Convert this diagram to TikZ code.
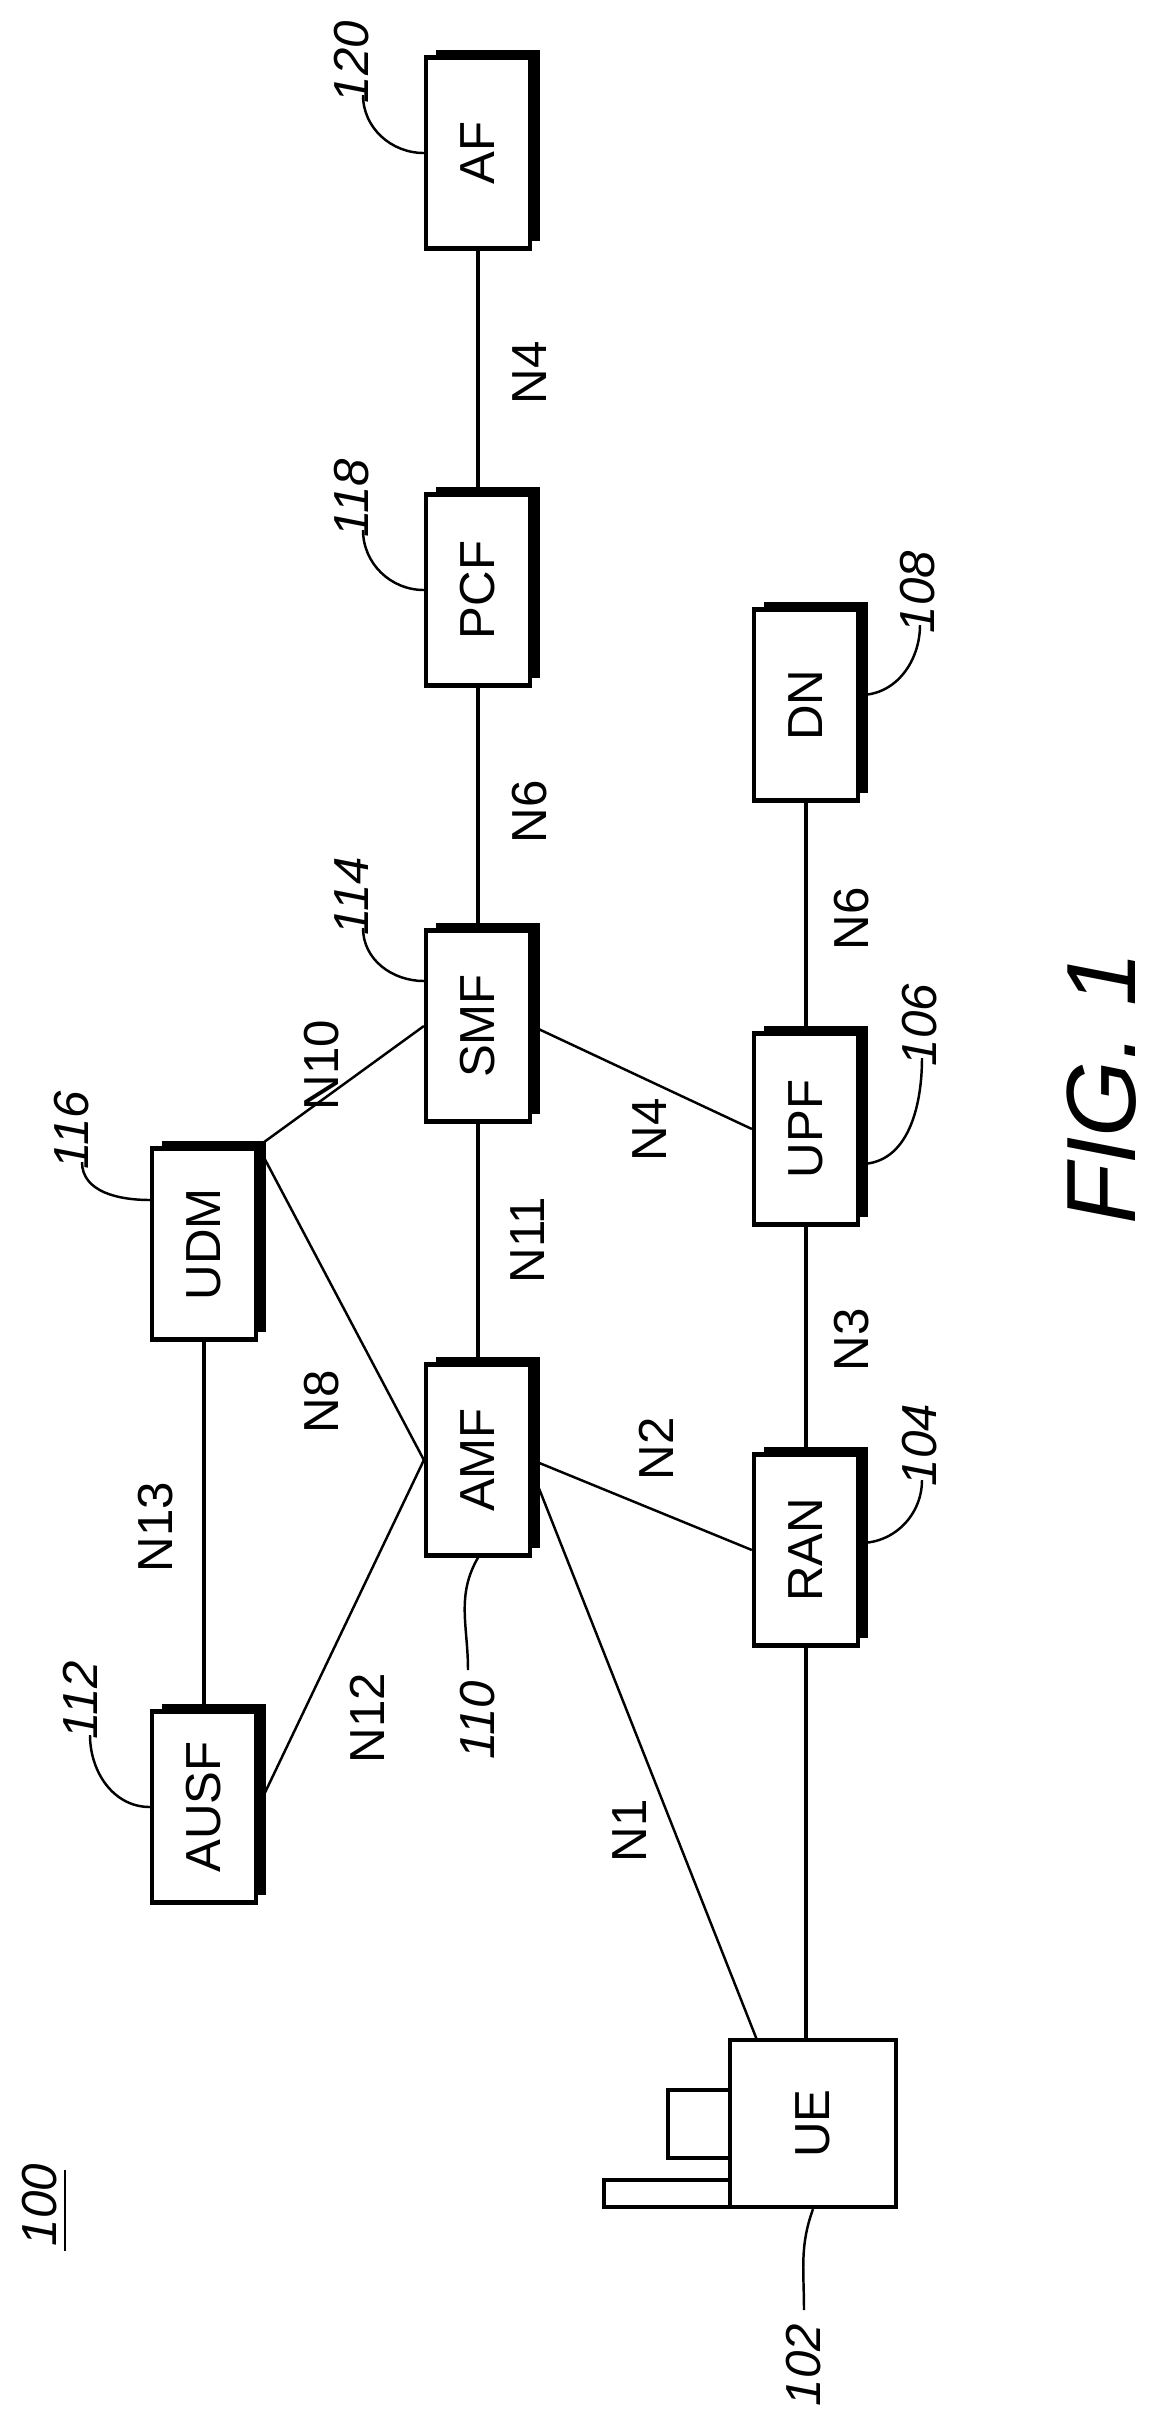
\documentclass[tikz,border=0pt]{standalone}
\usepackage{fontspec}
\setmainfont{Liberation Sans}
\usepackage{tikz}
\usetikzlibrary{calc,
                shadows
                }

\tikzset{
    nf/.style={draw, line width=1.2pt, fill=white, rotate=90,
               minimum width=1.91cm, minimum height=1.04cm,
               font=\fontsize{14}{14}\selectfont,
               drop shadow={shadow xshift=0.1cm, shadow yshift=0.08cm,
                            fill=black, opacity=1}},
    lnk/.style={line width=1.2pt},
    thn/.style={line width=0.7pt},
    lab/.style={rotate=90, font=\fontsize{14}{14}\selectfont},
    ref/.style={rotate=90, font=\fontsize{14}{14}\selectfont\itshape},
    lead/.style={line width=0.7pt}
}

\begin{document}
\begin{tikzpicture}
    \useasboundingbox (0,0) rectangle (11.56,-24.15);

    % Netzfunktionen
    \node[nf] (af)   at (4.78,-1.53)  {AF};
    \node[nf] (pcf)  at (4.78,-5.90)  {PCF};
    \node[nf] (smf)  at (4.78,-10.26) {SMF};
    \node[nf] (amf)  at (4.78,-14.60) {AMF};
    \node[nf] (udm)  at (2.04,-12.44) {UDM};
    \node[nf] (ausf) at (2.04,-18.07) {AUSF};
    \node[nf] (dn)   at (8.06,-7.05)  {DN};
    \node[nf] (upf)  at (8.06,-11.29) {UPF};
    \node[nf] (ran)  at (8.06,-15.50) {RAN};

    % Endgeraet
    \draw[lnk] (6.68,-20.90) rectangle (7.30,-21.58);
    \draw[lnk] (6.04,-21.80) rectangle (7.30,-22.07);
    \node[draw, lnk, rotate=90, minimum width=1.67cm, minimum height=1.66cm,
          font=\fontsize{14}{14}\selectfont] (ue) at (8.13,-21.235) {UE};
    \coordinate (uen1) at (7.57,-20.40);
    \coordinate (uen3) at (8.06,-20.40);

    % Verbindungen
    \draw[lnk] (af) -- (pcf);
    \draw[lnk] (pcf) -- (smf);
    \draw[lnk] (smf) -- (amf);
    \draw[lnk] (udm) -- (ausf);
    \draw[lnk] (dn) -- (upf);
    \draw[lnk] (upf) -- (ran);
    \draw[lnk] (ran) -- (uen3);
    \draw[thn] (smf.north) -- (udm.south east);
    \draw[thn] (smf.south) -- (upf.north);
    \draw[thn] (amf.north) -- (udm.south east);
    \draw[thn] (amf.north) -- (ausf.south);
    \draw[thn] (amf.south) -- (ran.north);
    \draw[thn] ($(amf.south)+(0,-0.11)$) -- (uen1);
    \node[lab] at (5.30,-3.73)  {N4};
    \node[lab] at (5.30,-8.12)  {N6};
    \node[lab] at (5.28,-12.40) {N11};
    \node[lab] at (1.56,-15.27) {N13};
    \node[lab] at (8.52,-9.19)  {N6};
    \node[lab] at (8.52,-13.40) {N3};
    \node[lab] at (3.22,-10.65) {N10};
    \node[lab] at (6.50,-11.30) {N4};
    \node[lab] at (3.22,-14.02) {N8};
    \node[lab] at (3.67,-17.18) {N12};
    \node[lab] at (6.56,-14.49) {N2};
    \node[lab] at (6.30,-18.31) {N1};

    % Bezugszeichen
    \node[ref] (r120) at (3.52,-0.62) {120};
    \draw[lead] (af.north) to[out=180, in=-90] (3.63,-0.95);
    \node[ref] (r118) at (3.52,-4.98) {118};
    \draw[lead] (pcf.north) to[out=180, in=-90] (3.63,-5.30);
    \node[ref] (r114) at (3.52,-8.96) {114};
    \draw[lead] ($(smf.north)+(0,0.45)$) to[out=180, in=-90] (3.63,-9.28);
    \node[ref] (r116) at (0.72,-11.30) {116};
    \draw[lead] ($(udm.north)+(0,0.44)$) to[out=180, in=-90] (0.82,-11.62);
    \node[ref] (r112) at (0.80,-17.00) {112};
    \draw[lead] (ausf.north) to[out=180, in=-90] (0.90,-17.35);
    \node[ref] (r110) at (4.78,-17.20) {110};
    \draw[lead] (amf.west) to[out=-120, in=90] (4.68,-16.70);
    \node[ref] (r108) at (9.18,-5.92) {108};
    \draw[lead] ($(dn.south)+(0,0.10)$) to[out=0, in=-90] (9.20,-6.25);
    \node[ref] (r106) at (9.20,-10.25) {106};
    \draw[lead] ($(upf.south)+(0,-0.35)$) to[out=0, in=-90] (9.22,-10.58);
    \node[ref] (r104) at (9.20,-14.45) {104};
    \draw[lead] ($(ran.south)+(0,0.07)$) to[out=0, in=-90] (9.22,-14.80);
    \node[ref] (r102) at (8.04,-23.65) {102};
    \draw[lead] (ue.west) to[out=-110, in=90] (8.04,-23.10);
    \node[ref] (r100) at (0.40,-22.05) {100};
    \draw[line width=0.6pt] (0.65,-21.70) -- (0.65,-22.51);

    % Figurenbezeichnung
    \node[rotate=90, font=\fontsize{28}{28}\selectfont\rmfamily\itshape] (fig)
        at (11.02,-10.88) {FIG. 1};
\end{tikzpicture}
\end{document}
